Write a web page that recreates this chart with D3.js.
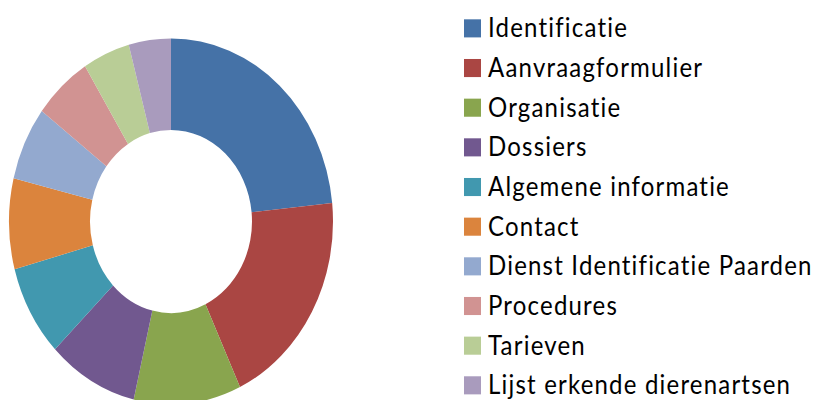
<!DOCTYPE html>
<html><head><meta charset="utf-8">
<script src="https://cdn.jsdelivr.net/npm/d3@7"></script>
<style>html,body{margin:0;padding:0;background:#fff;}svg{display:block;}</style>
</head><body>
<svg id="chart" width="819" height="400"></svg>
<script>
const categories = ["Identificatie","Aanvraagformulier","Organisatie","Dossiers","Algemene informatie","Contact","Dienst Identificatie Paarden","Procedures","Tarieven","Lijst erkende dierenartsen"];
const values = [23.4, 19.6, 10.7, 9.0, 8.1, 8.0, 6.5, 5.8, 4.7, 4.2];
const colors = ["#4572A7","#AA4643","#89A54E","#71588F","#4198AF","#DB843D","#93A9CF","#D19392","#B9CD96","#A99BBD"];

const svg = d3.select("#chart");
const root = svg.append("g").attr("transform","scale(1,1.13)");

const color = d3.scaleOrdinal().domain(categories).range(colors);
const data = categories.map((c,i)=>({name:c, value:values[i]}));

const pie = d3.pie().value(d=>d.value).sort(null);
const arc = d3.arc().innerRadius(81).outerRadius(162);

root.append("g").attr("transform","translate(171,196)")
  .selectAll("path").data(pie(data)).join("path")
  .attr("d", arc).attr("fill", d=>color(d.data.name));

const y = d3.scalePoint().domain(categories).range([17.1, 17.1 + 35.1*9]);
const leg = root.append("g").selectAll("g").data(categories).join("g")
  .attr("transform", d=>`translate(464,${y(d)})`);
leg.append("rect").attr("width",17).attr("height",16).attr("fill", d=>color(d));
leg.append("text").attr("x",24).attr("y",16).text(d=>d)
  .attr("font-family","Lato, sans-serif").attr("font-size",24).attr("fill","#000")
  .attr("letter-spacing","1.2px")
  .style("font-variant-ligatures","none");
</script>
</body></html>
